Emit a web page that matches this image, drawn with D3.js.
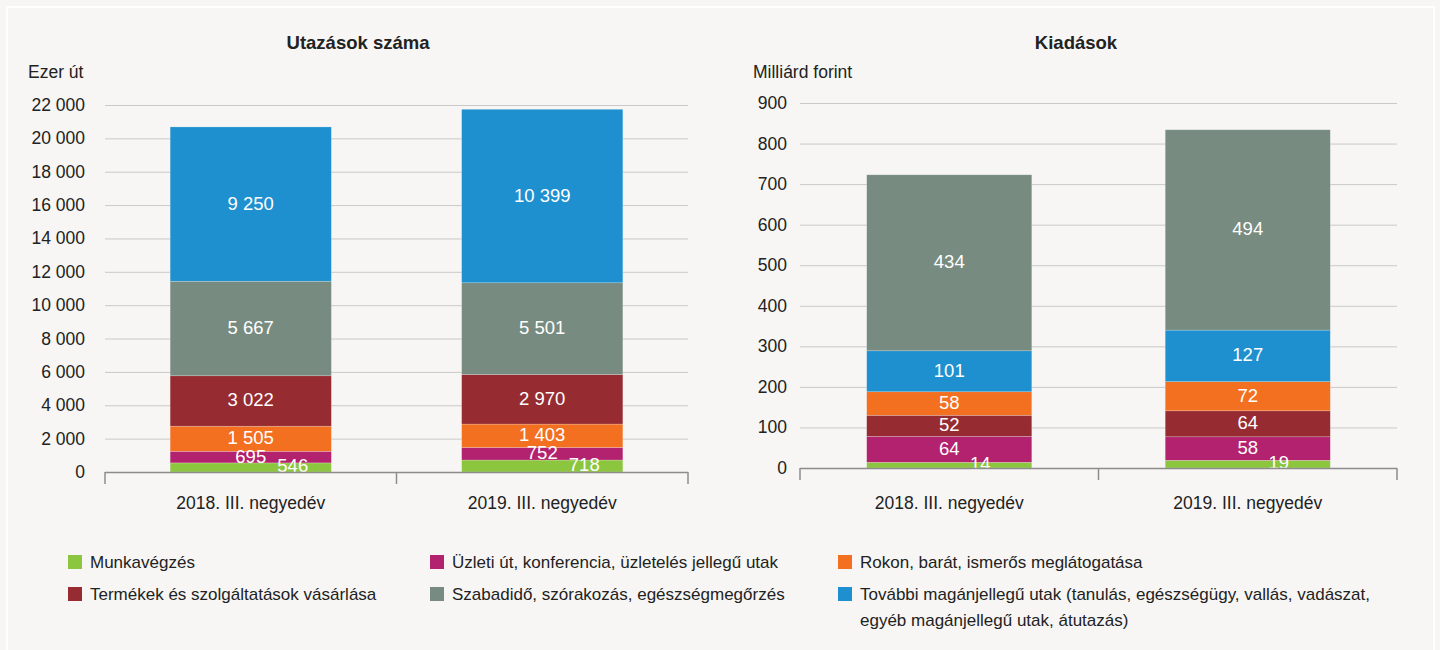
<!DOCTYPE html>
<html>
<head>
<meta charset="utf-8">
<script src="https://cdn.jsdelivr.net/npm/d3@7"></script>
<style>
  html, body { margin: 0; padding: 0; background: #f7f6f4; }
  svg { display: block; font-family: "Liberation Sans", Arial, sans-serif; }
</style>
</head>
<body>
<div id="chart"></div>
<script>
// categories and series
const categories = ['2018. III. negyedév', '2019. III. negyedév'];

const seriesNames = {
  work: 'Munkavégzés',
  business: 'Üzleti út, konferencia, üzletelés jellegű utak',
  visit: 'Rokon, barát, ismerős meglátogatása',
  shopping: 'Termékek és szolgáltatások vásárlása',
  leisure: 'Szabadidő, szórakozás, egészségmegőrzés',
  other: 'További magánjellegű utak (tanulás, egészségügy, vallás, vadászat,|egyéb magánjellegű utak, átutazás)'
};

// number of trips, thousand
const tripsWork     = [546, 718];
const tripsBusiness = [695, 752];
const tripsVisit    = [1505, 1403];
const tripsShopping = [3022, 2970];
const tripsLeisure  = [5667, 5501];
const tripsOther    = [9250, 10399];

// expenditure, billion HUF
const spendWork     = [14, 19];
const spendBusiness = [64, 58];
const spendShopping = [52, 64];
const spendVisit    = [58, 72];
const spendOther    = [101, 127];
const spendLeisure  = [434, 494];

const tripTicks  = d3.range(0, 22001, 2000);
const spendTicks = d3.range(0, 901, 100);

const colors = {
  work: '#8cc63f',
  business: '#b2226e',
  visit: '#f37021',
  shopping: '#962c32',
  leisure: '#778b80',
  other: '#1e90cf'
};

const W = 1440, H = 650;
const huLocale = d3.formatLocale({ decimal: ',', thousands: ' ', grouping: [3], currency: ['', ''] });
const fmt = huLocale.format(',d');

const svg = d3.select('#chart').append('svg')
  .attr('width', W).attr('height', H);

svg.append('rect').attr('width', W).attr('height', H).attr('fill', '#f7f6f4');
// white frame
svg.append('rect')
  .attr('x', 7).attr('y', 7).attr('width', 1427).attr('height', 660)
  .attr('fill', 'none').attr('stroke', '#ffffff').attr('stroke-width', 2);

function drawPanel(cfg) {
  const rows = categories.map((c, i) => {
    const r = { cat: c };
    cfg.keys.forEach(k => { r[k] = cfg.values[k][i]; });
    return r;
  });
  const stacked = d3.stack().keys(cfg.keys)(rows);

  const x = d3.scaleBand().domain(categories).range([cfg.x0, cfg.x1]).padding(0);
  const y = d3.scaleLinear().domain([0, cfg.max]).range([cfg.yBase, cfg.yTop]);
  const barW = x.bandwidth() * 0.553;

  const g = svg.append('g');

  // title + unit
  g.append('text')
    .attr('x', cfg.titleX).attr('y', 42)
    .attr('text-anchor', 'middle').attr('dominant-baseline', 'central')
    .attr('font-size', '18.5px').attr('font-weight', 'bold').attr('fill', '#222')
    .text(cfg.title);
  g.append('text')
    .attr('x', cfg.unitX).attr('y', 72)
    .attr('dominant-baseline', 'central')
    .attr('font-size', '17.5px').attr('fill', '#222')
    .text(cfg.unit);

  // gridlines
  g.append('g').selectAll('line')
    .data(cfg.ticks.filter(t => t > 0)).enter()
    .append('line')
      .attr('x1', cfg.x0).attr('x2', cfg.x1)
      .attr('y1', d => y(d) + 0.5).attr('y2', d => y(d) + 0.5)
      .attr('stroke', '#c9c9c9').attr('stroke-width', 1);

  // y tick labels
  g.append('g').selectAll('text')
    .data(cfg.ticks).enter()
    .append('text')
      .attr('x', cfg.labelX).attr('y', d => y(d))
      .attr('text-anchor', 'end').attr('dominant-baseline', 'central')
      .attr('font-size', '17.5px').attr('fill', '#222')
      .text(d => fmt(d));

  // bars
  const layer = g.append('g').selectAll('g')
    .data(stacked).enter()
    .append('g').attr('fill', d => colors[d.key]);
  layer.selectAll('rect')
    .data(d => d).enter()
    .append('rect')
      .attr('x', d => x(d.data.cat) + (x.bandwidth() - barW) / 2)
      .attr('width', barW)
      .attr('y', d => y(d[1]))
      .attr('height', d => y(d[0]) - y(d[1]))
      .attr('stroke', 'rgba(255,255,255,0.35)').attr('stroke-width', 0.6);

  // value labels
  stacked.forEach(s => {
    g.append('g').selectAll('text')
      .data(s).enter()
      .append('text')
        .attr('x', d => x(d.data.cat) + x.bandwidth() / 2 + (s.key === 'work' ? cfg.workDx : 0))
        .attr('y', d => (y(d[0]) + y(d[1])) / 2 - (s.key === 'work' ? 2 : 1))
        .attr('text-anchor', 'middle').attr('dominant-baseline', 'central')
        .attr('font-size', '18.5px').attr('fill', '#fff')
        .text(d => fmt(d[1] - d[0]));
  });

  // category axis
  const ax = g.append('g');
  ax.append('line')
    .attr('x1', cfg.x0).attr('x2', cfg.x1)
    .attr('y1', cfg.yBase + 0.5).attr('y2', cfg.yBase + 0.5)
    .attr('stroke', '#8c8c8c').attr('stroke-width', 1.5);
  const bounds = [cfg.x0].concat(categories.map(c => x(c) + x.bandwidth()));
  ax.selectAll('line.tk')
    .data(bounds).enter()
    .append('line').attr('class', 'tk')
      .attr('x1', d => d).attr('x2', d => d)
      .attr('y1', cfg.yBase).attr('y2', cfg.yBase + 12)
      .attr('stroke', '#8c8c8c').attr('stroke-width', 1.5);
  ax.selectAll('text')
    .data(categories).enter()
    .append('text')
      .attr('x', d => x(d) + x.bandwidth() / 2).attr('y', 503)
      .attr('text-anchor', 'middle').attr('dominant-baseline', 'central')
      .attr('font-size', '17.5px').attr('fill', '#222')
      .text(d => d);
}

drawPanel({
  title: 'Utazások száma', titleX: 358,
  unit: 'Ezer út', unitX: 28,
  keys: ['work', 'business', 'visit', 'shopping', 'leisure', 'other'],
  values: { work: tripsWork, business: tripsBusiness, visit: tripsVisit,
            shopping: tripsShopping, leisure: tripsLeisure, other: tripsOther },
  ticks: tripTicks, max: 22000,
  x0: 105, x1: 688, yBase: 472, yTop: 105, labelX: 85, workDx: 42
});

drawPanel({
  title: 'Kiadások', titleX: 1076,
  unit: 'Milliárd forint', unitX: 753,
  keys: ['work', 'business', 'shopping', 'visit', 'other', 'leisure'],
  values: { work: spendWork, business: spendBusiness, visit: spendVisit,
            shopping: spendShopping, leisure: spendLeisure, other: spendOther },
  ticks: spendTicks, max: 900,
  x0: 800, x1: 1397, yBase: 468, yTop: 103, labelX: 787, workDx: 31
});

// legend
const legendItems = [
  { key: 'work', col: 0, row: 0 },
  { key: 'business', col: 1, row: 0 },
  { key: 'visit', col: 2, row: 0 },
  { key: 'shopping', col: 0, row: 1 },
  { key: 'leisure', col: 1, row: 1 },
  { key: 'other', col: 2, row: 1 }
];
const colX = [68, 430, 838];
const rowY = [562, 594];

const lg = svg.append('g').selectAll('g')
  .data(legendItems).enter()
  .append('g')
    .attr('transform', d => `translate(${colX[d.col]},${rowY[d.row]})`);
lg.append('rect')
  .attr('x', 0).attr('y', -7).attr('width', 14).attr('height', 14)
  .attr('fill', d => colors[d.key]);
lg.each(function(d) {
  const lines = seriesNames[d.key].split('|');
  const t = d3.select(this).append('text')
    .attr('font-size', '17px').attr('fill', '#222');
  lines.forEach((ln, i) => {
    t.append('tspan')
      .attr('x', 22).attr('y', i * 26)
      .attr('dominant-baseline', 'central')
      .text(ln);
  });
});
</script>
</body>
</html>
